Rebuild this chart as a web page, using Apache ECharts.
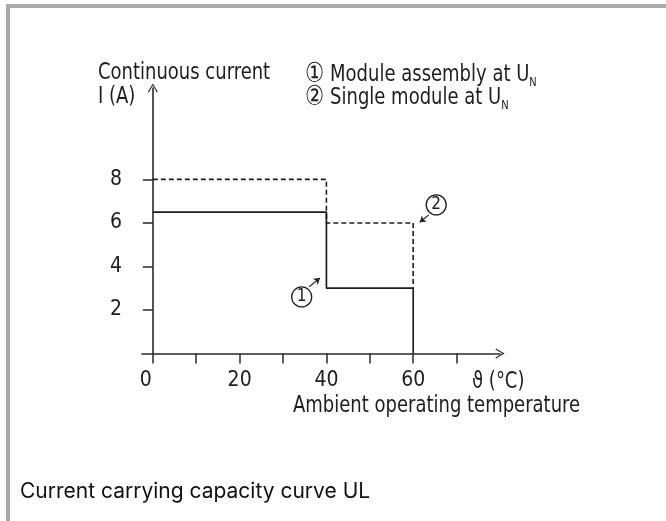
<!DOCTYPE html>
<html>
<head>
<meta charset="utf-8">
<script src="https://cdn.jsdelivr.net/npm/echarts@6/dist/echarts.min.js"></script>
<style>
  html, body { margin: 0; padding: 0; background: #fff; }
  #chart { position: absolute; left: 0; top: 0; width: 666px; height: 521px; }
  #frame { position: absolute; left: 6px; top: 4px; right: -10px; bottom: -10px;
           border-top: 4px solid #a9aaae; border-left: 4px solid #a9aaae; pointer-events: none; }
</style>
</head>
<body>
<div id="chart"></div>
<div id="frame"></div>
<script>
// step curves: [temperature, current]
const assembly = [[0, 6.5], [40, 6.5], [40, 3], [60, 3], [60, 0]];
const single = [[0, 8], [40, 8], [40, 6], [60, 6], [60, 3]];
const xTicks = [0, 10, 20, 30, 40, 50, 60, 70];
const xLabels = [0, 20, 40, 60];
const yTicks = [2, 4, 6, 8];
// callout circles and their little arrows (data coords)
const callout1 = { at: [34.3, 2.6], from: [36.0, 3.06], to: [38.5, 3.47] };
const callout2 = { at: [65.3, 6.83], from: [63.6, 6.37], to: [61.5, 6.03] };

const narrow = "'Liberation Sans Narrow', 'DejaVu Sans Condensed', sans-serif";
const ink = '#1e1e1e';
const chevron = 'path://M0,0 L5,8.5 L4,9.2 L0,2.2 L-4,9.2 L-5,8.5 Z';

var chart = echarts.init(document.getElementById('chart'));

function callout(c, txt) {
  return {
    markPoint: {
      symbol: 'circle',
      symbolSize: 20,
      itemStyle: { color: '#fff', borderColor: ink, borderWidth: 1.3 },
      label: { show: true, formatter: txt, color: ink, fontSize: 17, fontFamily: narrow },
      data: [{ coord: c.at }]
    },
    markLine: {
      silent: true,
      symbol: ['none', 'arrow'],
      symbolSize: 6,
      label: { show: false },
      lineStyle: { color: ink, width: 1.2, type: 'solid' },
      data: [[{ coord: c.from }, { coord: c.to }]]
    }
  };
}

function label(text, x, y, extra) {
  return {
    type: 'text', x: x, y: y, scaleY: 1.15,
    style: Object.assign({ text: text, fontSize: 20, fontFamily: narrow, fill: ink, verticalAlign: 'middle' }, extra || {})
  };
}

var legendRich = {
  sub: { fontSize: 11, fontFamily: narrow, fill: ink, padding: [13, 0, 0, 0] },
  c: { fontSize: 24, fontFamily: narrow, fill: ink }
};

var option = {
  animation: false,
  textStyle: { fontFamily: narrow },
  grid: { left: 142, right: 166, top: 88, bottom: 167.5, containLabel: false },
  xAxis: {
    type: 'value',
    min: -2.5,
    max: 80,
    splitLine: { show: false },
    axisLine: {
      onZero: true,
      symbol: ['none', chevron],
      symbolSize: [10, 10],
      lineStyle: { color: '#2a2a2a', width: 1.6 }
    },
    axisTick: { show: true, customValues: xTicks, length: 10, lineStyle: { color: '#2a2a2a', width: 1.5 } },
    axisLabel: {
      customValues: xLabels,
      margin: 17,
      color: ink,
      fontSize: 21,
      fontFamily: narrow,
      formatter: v => v === 0 ? '{z|0}' : String(v),
      rich: { z: { fontSize: 21, fontFamily: narrow, color: ink, padding: [0, 14, 0, 0] } }
    }
  },
  yAxis: {
    type: 'value',
    min: 0,
    max: 12.2,
    splitLine: { show: false },
    axisLine: {
      onZero: true,
      symbol: ['none', chevron],
      symbolSize: [10, 10],
      lineStyle: { color: '#2a2a2a', width: 1.6 }
    },
    axisTick: { show: true, customValues: yTicks, length: 10, lineStyle: { color: '#2a2a2a', width: 1.5 } },
    axisLabel: { customValues: yTicks, margin: 20, color: ink, fontSize: 21, fontFamily: narrow }
  },
  series: [
    Object.assign({
      name: 'Module assembly',
      type: 'line',
      data: assembly,
      showSymbol: false,
      lineStyle: { color: ink, width: 1.7 },
      z: 3
    }, callout(callout1, '1')),
    Object.assign({
      name: 'Single module',
      type: 'line',
      data: single,
      showSymbol: false,
      lineStyle: { color: ink, width: 1.6, type: [5, 3] },
      z: 2
    }, callout(callout2, '2'))
  ],
  graphic: [
    label('Continuous current', 98, 73),
    label('I (A)', 98, 97),
    label('{c|\u2460} Module assembly at U{sub|N}', 305, 75, { rich: legendRich }),
    label('{c|\u2461} Single module at U{sub|N}', 305, 98, { rich: legendRich }),
    label('\u03d1 (°C)', 472, 382),
    label('Ambient operating temperature', 293, 406),
    { type: 'text', x: 20, y: 492, style: { text: 'Current carrying capacity curve UL', fontSize: 21, fontFamily: 'Inter, Lato, sans-serif', fill: '#111', verticalAlign: 'middle' } }
  ]
};

chart.setOption(option);
</script>
</body>
</html>
